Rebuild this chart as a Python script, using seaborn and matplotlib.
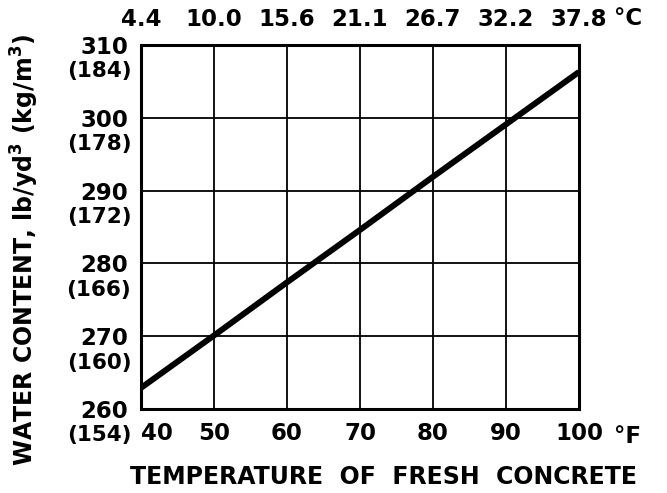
import numpy as np
import pandas as pd
import matplotlib
matplotlib.use("Agg")
import matplotlib.pyplot as plt
import seaborn as sns

# ── Data ──────────────────────────────────────────────────────────────────────
temp_f     = [40, 50, 60, 70, 80, 90, 100]
water_lb   = [262.9, 270.1, 277.4, 284.6, 291.9, 299.1, 306.3]
y_ticks_lb = [260, 270, 280, 290, 300, 310]
y_ticks_kg = ["(154)", "(160)", "(166)", "(172)", "(178)", "(184)"]
x_ticks_c  = ["4.4", "10.0", "15.6", "21.1", "26.7", "32.2", "37.8"]

df = pd.DataFrame({"temp": temp_f, "water": water_lb})

# ── Plot ──────────────────────────────────────────────────────────────────────
sns.set_style("white")
plt.rcParams["font.family"] = ["DejaVu Sans"]
plt.rcParams["font.weight"] = "bold"
plt.rcParams["text.color"] = "black"
plt.rcParams["axes.labelcolor"] = "black"
plt.rcParams["axes.labelweight"] = "bold"
plt.rcParams["mathtext.default"] = "bf"
FS = 16.5

fig = plt.figure(figsize=(6.67, 4.93), dpi=100)
ax = fig.add_axes([141 / 667, 1 - 409 / 493, 438 / 667, 364 / 493])

sns.lineplot(data=df, x="temp", y="water", color="black", linewidth=4.3,
             solid_capstyle="butt", ax=ax)

ax.set_xlim(40, 100)
ax.set_ylim(260, 310)
ax.set_xticks(temp_f)
ax.set_yticks(y_ticks_lb)
ax.grid(True, color="black", linewidth=1.3)
for s in ax.spines.values():
    s.set_linewidth(2.2)
    s.set_color("black")
ax.tick_params(length=0, labelsize=FS, colors="black")

# bottom °F labels
ax.set_xticklabels([str(t) for t in temp_f])
ax.tick_params(axis="x", pad=9)
ax.get_xticklabels()[0].set_horizontalalignment("left")
ax.annotate("°F", xy=(1, 0), xycoords="axes fraction", xytext=(25, -20),
            textcoords="offset points", ha="left", va="center", fontsize=FS)

# left lb/yd3 labels and kg/m3 in brackets below
ax.set_yticklabels([str(v) for v in y_ticks_lb])
ax.tick_params(axis="y", pad=9)
for v, kg in zip(y_ticks_lb, y_ticks_kg):
    ax.annotate(kg, xy=(0, v), xycoords=("axes fraction", "data"),
                xytext=(-7, -19), textcoords="offset points",
                ha="right", va="center", fontsize=FS - 1)

# top °C axis
top = ax.twiny()
top.set_xlim(ax.get_xlim())
top.set_xticks(temp_f)
top.set_xticklabels(x_ticks_c)
top.tick_params(length=0, labelsize=FS, pad=10, colors="black")
for s in top.spines.values():
    s.set_visible(False)
top.annotate("°C", xy=(1, 1), xycoords="axes fraction", xytext=(25, 19),
             textcoords="offset points", ha="left", va="center", fontsize=FS)

ax.set_xlabel("TEMPERATURE  OF  FRESH  CONCRETE", fontsize=17)
ax.set_ylabel("WATER CONTENT, lb/yd$^3$ (kg/m$^3$)", fontsize=17)
ax.xaxis.set_label_coords(0.553, -0.155)
ax.yaxis.set_label_coords(-0.228, 0.437)

fig.savefig("out.png", dpi=100)
